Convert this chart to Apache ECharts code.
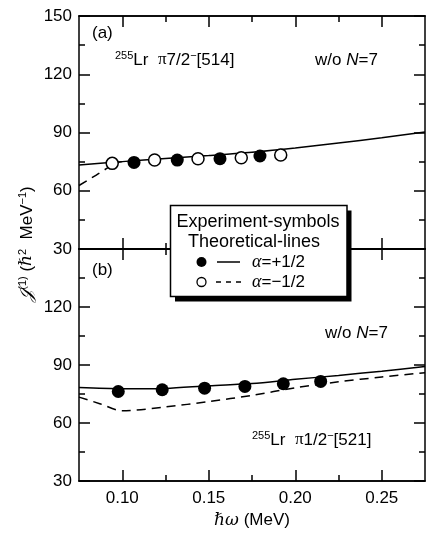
<!DOCTYPE html>
<html>
<head>
<meta charset="utf-8">
<script src="https://cdn.jsdelivr.net/npm/echarts@6/dist/echarts.min.js"></script>
<style>
  html, body { margin: 0; padding: 0; background: #fff; }
  #chart { width: 426px; height: 536px; }
</style>
</head>
<body>
<div id="chart"></div>
<script>
// x ticks (MeV)
const xMajor = [0.10, 0.15, 0.20, 0.25];
const xMinor = [0.125, 0.175, 0.225];

// (a) pi7/2-[514]
const aFilledX = [0.1068, 0.1318, 0.1565, 0.1796];
const aFilledY = [74.6, 75.8, 76.5, 77.9];
const aOpenX = [0.0942, 0.1187, 0.1438, 0.1688, 0.1916];
const aOpenY = [74.1, 75.8, 76.5, 77.0, 78.4];
const aSolidX = [0.075, 0.10, 0.125, 0.15, 0.175, 0.20, 0.225, 0.25, 0.275];
const aSolidY = [73.3, 75.0, 76.6, 78.1, 79.8, 82.0, 84.6, 87.3, 90.3];
const aDashX = [0.075, 0.085, 0.092, 0.097, 0.10];
const aDashY = [62.7, 68.1, 72.0, 74.4, 75.0];

// (b) pi1/2-[521]
const bFilledX = [0.0977, 0.1231, 0.1476, 0.1709, 0.1931, 0.2147];
const bFilledY = [76.3, 77.2, 78.0, 78.9, 80.3, 81.5];
const bSolidX = [0.075, 0.10, 0.125, 0.15, 0.175, 0.20, 0.225, 0.25, 0.275];
const bSolidY = [78.3, 77.7, 77.9, 79.3, 80.4, 82.6, 84.6, 86.8, 89.2];
const bDashX = [0.075, 0.087, 0.10, 0.125, 0.15, 0.175, 0.20, 0.225, 0.25, 0.275];
const bDashY = [73.4, 70.0, 66.3, 68.3, 71.1, 74.3, 78.2, 81.3, 83.8, 86.0];

const FONT = "'Liberation Sans', Arial, sans-serif";
const BLACK = "#000";

function pairs(xs, ys) {
  return xs.map((x, i) => [x, ys[i]]);
}

function xAxis(gridIndex, position, ticks, len, showLabel) {
  return {
    type: "value",
    gridIndex: gridIndex,
    position: position,
    min: 0.075,
    max: 0.275,
    axisLine: { show: true, onZero: false, lineStyle: { color: BLACK, width: 1.5 } },
    axisTick: { show: true, inside: true, length: len, customValues: ticks, lineStyle: { color: BLACK, width: 1.5 } },
    axisLabel: {
      show: showLabel,
      customValues: xMajor,
      margin: 9,
      color: BLACK,
      fontFamily: FONT,
      fontSize: 17,
      formatter: (v) => v.toFixed(2),
    },
    splitLine: { show: false },
  };
}

function yAxis(gridIndex, position, showLabel, hideTop) {
  return {
    type: "value",
    gridIndex: gridIndex,
    position: position,
    min: 30,
    max: 150,
    interval: 30,
    axisLine: { show: true, onZero: false, lineStyle: { color: BLACK, width: 1.5 } },
    axisTick: { show: true, inside: true, length: 11, lineStyle: { color: BLACK, width: 1.5 } },
    minorTick: { show: true, splitNumber: 2, length: 6, lineStyle: { color: BLACK, width: 1.5 } },
    axisLabel: {
      show: showLabel,
      margin: 7,
      color: BLACK,
      fontFamily: FONT,
      fontSize: 17,
      formatter: (v) => (hideTop && v === 150 ? "" : String(v)),
    },
    splitLine: { show: false },
    minorSplitLine: { show: false },
  };
}

function lineSeries(xi, yi, xs, ys, dashed) {
  return {
    type: "line",
    xAxisIndex: xi,
    yAxisIndex: yi,
    data: pairs(xs, ys),
    showSymbol: false,
    smooth: 0.3,
    silent: true,
    lineStyle: { color: BLACK, width: 1.5, type: dashed ? [9, 6] : "solid" },
    z: 2,
  };
}

function dotSeries(xi, yi, xs, ys, open) {
  return {
    type: "scatter",
    xAxisIndex: xi,
    yAxisIndex: yi,
    data: pairs(xs, ys),
    symbol: "circle",
    symbolSize: open ? 12 : 13,
    itemStyle: open
      ? { color: "#fff", borderColor: BLACK, borderWidth: 1.5, opacity: 1 }
      : { color: BLACK, opacity: 1 },
    z: 5,
  };
}

function label(x, y, text, extra) {
  return Object.assign(
    {
      type: "text",
      x: x,
      y: y,
      style: {
        text: text,
        fill: BLACK,
        font: "17px " + FONT,
        verticalAlign: "middle",
        rich: {
          sup: { fontSize: 11, fontFamily: FONT, verticalAlign: "top", lineHeight: 20, padding: [0, 0, 0, 0] },
          t: { fontSize: 17, fontFamily: FONT, lineHeight: 20 },
          it: { fontSize: 17, fontFamily: FONT, fontStyle: "italic", lineHeight: 20 },
          gr: { fontSize: 17, fontFamily: "'Liberation Serif', serif", lineHeight: 20 },
          ga: { fontSize: 18, fontFamily: "'Liberation Serif', serif", fontStyle: "italic", lineHeight: 20 },
        },
      },
      z: 20,
    },
    extra || {}
  );
}

const chart = echarts.init(document.getElementById("chart"), null, { renderer: "canvas" });

const option = {
  animation: false,
  backgroundColor: "#fff",
  grid: [
    { left: 79, top: 16, width: 346, height: 233 },
    { left: 79, top: 249, width: 346, height: 232 },
  ],
  xAxis: [
    xAxis(0, "bottom", xMajor, 11, false),
    xAxis(0, "bottom", xMinor, 6, false),
    xAxis(0, "top", xMajor, 11, false),
    xAxis(0, "top", xMinor, 6, false),
    Object.assign(xAxis(1, "bottom", xMajor, 11, true), {
      name: "{h|ℏω} (MeV)",
      nameLocation: "middle",
      nameGap: 31,
      nameTextStyle: {
        color: BLACK,
        fontFamily: FONT,
        fontSize: 17,
        rich: { h: { fontFamily: "'DejaVu Serif', serif", fontStyle: "italic", fontSize: 17 } },
      },
    }),
    xAxis(1, "bottom", xMinor, 6, false),
    xAxis(1, "top", xMajor, 11, false),
    xAxis(1, "top", xMinor, 6, false),
  ],
  yAxis: [
    yAxis(0, "left", true, false),
    yAxis(0, "right", false, false),
    yAxis(1, "left", true, true),
    yAxis(1, "right", false, false),
  ],
  series: [
    lineSeries(0, 0, aSolidX, aSolidY, false),
    lineSeries(0, 0, aDashX, aDashY, true),
    dotSeries(0, 0, aOpenX, aOpenY, true),
    dotSeries(0, 0, aFilledX, aFilledY, false),
    lineSeries(4, 2, bSolidX, bSolidY, false),
    lineSeries(4, 2, bDashX, bDashY, true),
    dotSeries(4, 2, bFilledX, bFilledY, false),
  ],
  graphic: [
    // panel labels
    label(92, 33, "(a)"),
    label(115, 60, "{sup|255}{t|Lr  }{gr|π}{t|7/2}{sup|−}{t|[514]}"),
    label(315, 60, "{t|w/o }{it|N}{t|=7}"),
    label(92, 270, "(b)"),
    label(325, 333, "{t|w/o }{it|N}{t|=7}"),
    label(252, 440, "{sup|255}{t|Lr  }{gr|π}{t|1/2}{sup|−}{t|[521]}"),
    // y axis title
    label(27, 244, "{j|𝒥}{sup|(1)}{t| (}{h|ℏ}{sup|2}{t|  MeV}{sup|−1}{t|)}", {
      rotation: Math.PI / 2,
      style: {
        text: "{j|𝒥}{s|(1)}{t| (}{h|ℏ}{s|2}{t|  MeV}{s|−1}{t|)}",
        fill: BLACK,
        font: "17px " + FONT,
        align: "center",
        verticalAlign: "middle",
        rich: {
          j: { fontSize: 18, fontFamily: "'DejaVu Serif', serif", fontStyle: "italic", lineHeight: 20 },
          s: { fontSize: 11, fontFamily: FONT, verticalAlign: "top", lineHeight: 20 },
          t: { fontSize: 17, fontFamily: FONT, lineHeight: 20 },
          h: { fontSize: 17, fontFamily: "'DejaVu Serif', serif", fontStyle: "italic", lineHeight: 20 },
        },
      },
    }),
    // legend box
    { type: "rect", shape: { x: 175, y: 210.5, width: 176.5, height: 91 }, style: { fill: BLACK }, z: 30 },
    { type: "rect", shape: { x: 170.5, y: 205.5, width: 176.5, height: 91 }, style: { fill: "#fff", stroke: BLACK, lineWidth: 1.5 }, z: 31 },
    label(258, 222, "Experiment-symbols", { z: 32, style: { text: "Experiment-symbols", fill: BLACK, font: "18px " + FONT, align: "center", verticalAlign: "middle" } }),
    label(254, 242, "Theoretical-lines", { z: 32, style: { text: "Theoretical-lines", fill: BLACK, font: "18px " + FONT, align: "center", verticalAlign: "middle" } }),
    { type: "circle", shape: { cx: 201.5, cy: 262, r: 5 }, style: { fill: BLACK }, z: 32 },
    { type: "line", shape: { x1: 217, y1: 262, x2: 240, y2: 262 }, style: { stroke: BLACK, lineWidth: 1.5 }, z: 32 },
    label(252, 262, "{ga|α}{t|=+1/2}", { z: 32 }),
    { type: "circle", shape: { cx: 201.5, cy: 282, r: 4.5 }, style: { fill: "#fff", stroke: BLACK, lineWidth: 1.3 }, z: 32 },
    { type: "line", shape: { x1: 216, y1: 282, x2: 241, y2: 282 }, style: { stroke: BLACK, lineWidth: 1.5, lineDash: [5, 5] }, z: 32 },
    label(252, 282, "{ga|α}{t|=−1/2}", { z: 32 }),
  ],
};

chart.setOption(option);
</script>
</body>
</html>
